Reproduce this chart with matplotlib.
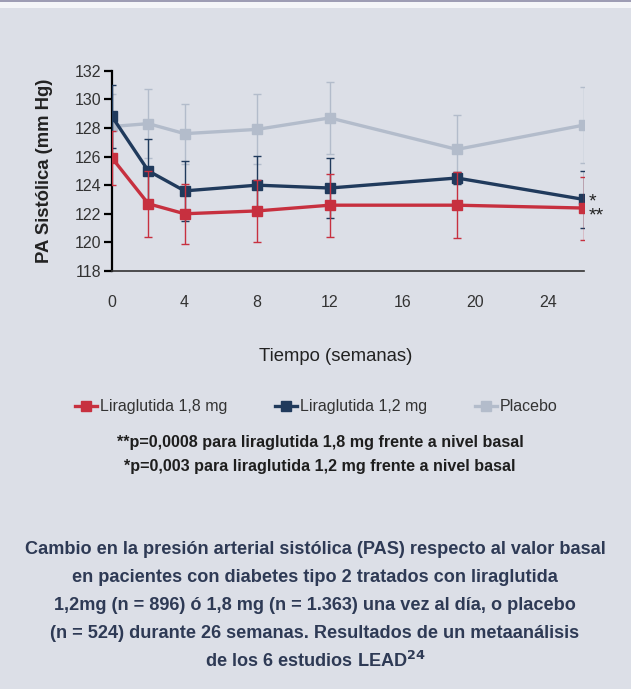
import matplotlib.pyplot as plt
from matplotlib.lines import Line2D

plt.rcParams['font.family'] = ['Liberation Sans', 'DejaVu Sans']

# data
weeks = [0, 2, 4, 8, 12, 19, 26]
lira18 = [125.9, 122.7, 122.0, 122.2, 122.6, 122.6, 122.4]
lira18_err = [1.9, 2.3, 2.1, 2.15, 2.2, 2.3, 2.2]
lira12 = [128.8, 125.0, 123.6, 124.0, 123.8, 124.5, 123.0]
lira12_err = [2.2, 2.2, 2.1, 2.05, 2.1, 0.4, 2.0]
placebo = [128.1, 128.3, 127.6, 127.9, 128.7, 126.5, 128.2]
placebo_err = [2.3, 2.4, 2.1, 2.45, 2.5, 2.4, 2.65]

series_names = ["Liraglutida 1,8 mg", "Liraglutida 1,2 mg", "Placebo"]
yticks = [118, 120, 122, 124, 126, 128, 130, 132]
xticks = [0, 4, 8, 12, 16, 20, 24]

bg = "#dcdfe7"
red = "#c7303f"
blue = "#203a5c"
grey = "#b3bccb"

fig = plt.figure(figsize=(6.31, 6.89), dpi=100, facecolor=bg)

# thin band at the very top
fig.add_artist(plt.Rectangle((0, 1 - 2.5 / 689), 1, 2.5 / 689, transform=fig.transFigure,
                             color="#9e9db4", lw=0))
fig.add_artist(plt.Rectangle((0, 1 - 8 / 689), 1, 5.5 / 689, transform=fig.transFigure,
                             color="#f4f5f8", lw=0))

ax = fig.add_axes([112 / 631, 1 - 271 / 689, (584 - 112) / 631, (271 - 70.7) / 689])
ax.set_facecolor(bg)

for y, err, col, z in [(placebo, placebo_err, grey, 2), (lira12, lira12_err, blue, 3),
                       (lira18, lira18_err, red, 4)]:
    ax.errorbar(weeks, y, yerr=err, color=col, ecolor=col, lw=2.4, elinewidth=1.0,
                capsize=3, capthick=1.0, marker="s", ms=6.5, zorder=z)

# significance marks next to the last points (* = 1,2 mg, ** = 1,8 mg)
ax.annotate("*\n**", (weeks[-1], lira12[-1]), xytext=(3, 4), textcoords="offset points",
            fontsize=14, color="#222222", ha="left", va="top", linespacing=0.75,
            annotation_clip=False)

ax.set_xlim(0, 26)
ax.set_ylim(118, 132)
ax.set_yticks(yticks)
ax.set_xticks(xticks)
for s in ["top", "right"]:
    ax.spines[s].set_visible(False)
ax.spines["left"].set_linewidth(1.6)
ax.spines["bottom"].set_linewidth(1.2)
ax.spines["bottom"].set_color("#333333")
ax.tick_params(axis="y", length=6, width=1.6, labelsize=11.5, labelcolor="#333333", pad=2)
ax.tick_params(axis="x", length=0, labelsize=11.5, labelcolor="#333333", pad=17)
ax.set_ylabel("PA Sistólica (mm Hg)", fontsize=13.3, fontweight="bold", color="#222222",
              labelpad=15)

fig.text(336 / 631, 1 - 356 / 689, "Tiempo (semanas)", ha="center", va="center",
         fontsize=13.3, color="#222222")

handles = [Line2D([], [], color=c, lw=2.4, marker="s", ms=6.5) for c in [red, blue, grey]]
fig.legend(handles, series_names, loc="center", bbox_to_anchor=(316 / 631, 1 - 407 / 689),
           ncol=3, frameon=False, fontsize=11.5, handlelength=1.4, handletextpad=0.15,
           columnspacing=3.0, labelcolor="#333333")

fig.text(320 / 631, 1 - 442 / 689, "**p=0,0008 para liraglutida 1,8 mg frente a nivel basal",
         ha="center", va="center", fontsize=11.6, fontweight="bold", color="#1e1e1e")
fig.text(320 / 631, 1 - 466 / 689, "*p=0,003 para liraglutida 1,2 mg frente a nivel basal",
         ha="center", va="center", fontsize=11.6, fontweight="bold", color="#1e1e1e")

caption = ["Cambio en la presión arterial sistólica (PAS) respecto al valor basal",
           "en pacientes con diabetes tipo 2 tratados con liraglutida",
           "1,2mg (n = 896) ó 1,8 mg (n = 1.363) una vez al día, o placebo",
           "(n = 524) durante 26 semanas. Resultados de un metaanálisis",
           r"de los 6 estudios LEAD$^{\mathbf{24}}$"]
for i, line in enumerate(caption):
    fig.text(315 / 631, 1 - (549 + 28 * i) / 689, line, ha="center", va="center",
             fontsize=13.1, fontweight="bold", color="#2e3a55")

plt.savefig("out.png", dpi=100, facecolor=bg)
